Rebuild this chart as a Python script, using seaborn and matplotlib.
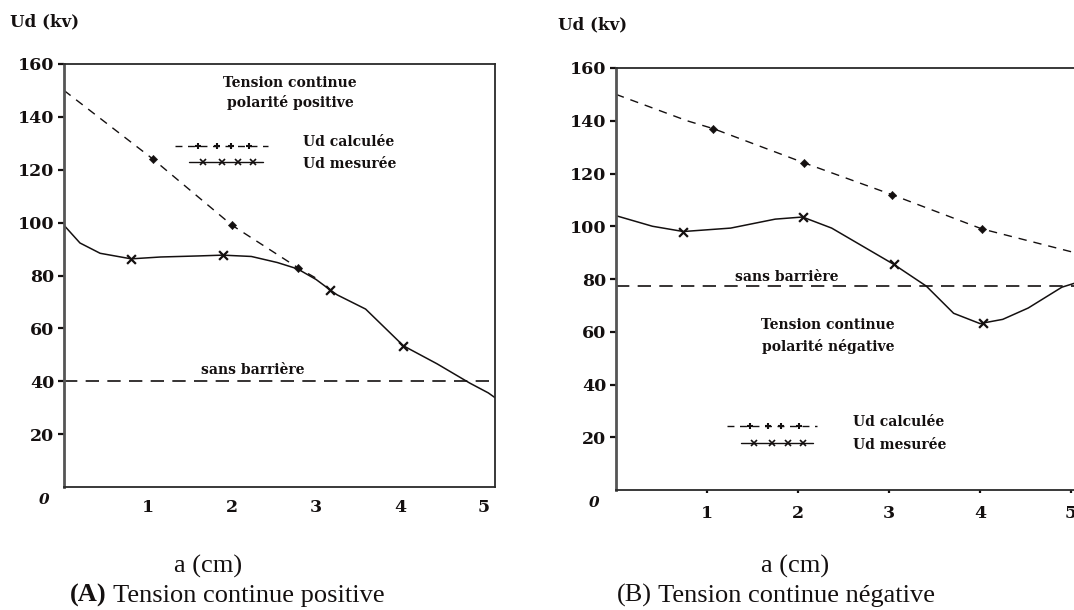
import matplotlib
matplotlib.use("Agg")
import matplotlib.pyplot as plt
import seaborn as sns
import pandas as pd

sns.set_theme(style="white")
plt.rcParams["font.family"] = ["Liberation Serif", "DejaVu Serif"]

INK = "#141010"

# ---------------- (A) positive DC voltage ----------------
a_calc_x = [0.0, 1.06, 2.0, 2.78, 3.0]
a_calc_y = [150, 124, 99, 83, 79]
a_calc_mark_x = [1.06, 2.0, 2.78]
a_calc_mark_y = [124, 99, 83]

a_meas_x = [0.0, 0.19, 0.43, 0.80, 1.15, 1.60, 1.89, 2.23, 2.54, 2.78,
            3.0, 3.17, 3.25, 3.59, 4.04, 4.44, 4.83, 5.05, 5.13]
a_meas_y = [99, 92.3, 88.4, 86.3, 87.0, 87.4, 87.7, 87.2, 84.9, 82.5,
            78.5, 74.5, 72.7, 67.3, 53.4, 46.6, 39.3, 35.6, 33.8]
a_meas_mark_x = [0.80, 1.89, 3.17, 4.04]
a_meas_mark_y = [86.3, 87.7, 74.5, 53.4]
a_baseline = 40

# ---------------- (B) negative DC voltage ----------------
b_calc_x = [0.0, 0.78, 1.07, 2.07, 3.03, 4.02, 5.04, 5.3]
b_calc_y = [150, 140, 137, 124, 112, 99, 90, 87]
b_calc_mark_x = [1.07, 2.07, 3.03, 4.02]
b_calc_mark_y = [137, 124, 112, 99]

b_meas_x = [0.0, 0.40, 0.74, 1.26, 1.75, 2.05, 2.37, 3.05, 3.41, 3.71,
            4.0, 4.25, 4.53, 4.90, 5.04, 5.3]
b_meas_y = [104, 100, 98, 99.3, 102.7, 103.5, 99.3, 85.6, 77.3, 67,
            63.1, 64.7, 69, 76.9, 78.4, 81]
b_meas_mark_x = [0.74, 2.05, 3.05, 4.03]
b_meas_mark_y = [98, 103.5, 85.6, 63.3]
b_baseline = 77.3

y_ticks = [20, 40, 60, 80, 100, 120, 140, 160]
x_ticks = [1, 2, 3, 4, 5]

W, H = 1074, 610
fig = plt.figure(figsize=(W / 100, H / 100), dpi=100)
fig.patch.set_facecolor("white")


def px_axes(left, top, right, bottom):
    return fig.add_axes([left / W, 1 - bottom / H, (right - left) / W, (bottom - top) / H])


ax_a = px_axes(64, 64, 495, 487)
ax_b = px_axes(616, 68, 616 + 5.3 * 91, 490)

tick_font = dict(family="DejaVu Serif", weight="bold", size=12.5)
note_font = dict(family="DejaVu Serif", weight="bold", size=10)


def draw_panel(ax, xmax, cx, cy, cmx, cmy, mx, my, mmx, mmy, base):
    calc = pd.DataFrame({"a": cx, "Ud": cy})
    meas = pd.DataFrame({"a": mx, "Ud": my})
    sns.lineplot(data=calc, x="a", y="Ud", ax=ax, color=INK, lw=1.0,
                 sort=False, estimator=None)
    ax.lines[-1].set_dashes((6, 5))
    sns.lineplot(data=meas, x="a", y="Ud", ax=ax, color=INK, lw=1.1,
                 sort=False, estimator=None)
    sns.scatterplot(x=cmx, y=cmy, ax=ax, color=INK, marker="D", s=18,
                    edgecolor=INK, zorder=4)
    sns.scatterplot(x=mmx, y=mmy, ax=ax, color=INK, marker="x", s=40,
                    linewidth=1.6, zorder=4)
    ax.axhline(base, color=INK, lw=1.2, dashes=(8, 5))

    ax.set_xlim(0, xmax)
    ax.set_ylim(0, 160)
    ax.set_yticks(y_ticks)
    ax.set_yticklabels([str(v) for v in y_ticks], fontdict=tick_font, color=INK)
    ax.set_xticks(x_ticks)
    ax.set_xticklabels([str(v) for v in x_ticks], fontdict=tick_font, color=INK)
    ax.tick_params(axis="y", left=True, length=4, width=1.6, color=INK, pad=3)
    ax.tick_params(axis="x", bottom=True, length=0, pad=9)
    ax.set_xlabel("")
    ax.set_ylabel("")
    for side in ["top", "right", "bottom"]:
        ax.spines[side].set_color("#2a2a2a")
        ax.spines[side].set_linewidth(1.3)
    ax.spines["left"].set_color("#555555")
    ax.spines["left"].set_linewidth(2.0)
    ax.set_facecolor("white")
    ax.text(-0.045, -0.03, "0", transform=ax.transAxes, ha="center", va="center",
            fontdict=dict(family="DejaVu Serif", weight="bold", style="italic", size=11),
            color=INK)


draw_panel(ax_a, 5.13, a_calc_x, a_calc_y, a_calc_mark_x, a_calc_mark_y,
           a_meas_x, a_meas_y, a_meas_mark_x, a_meas_mark_y, a_baseline)
draw_panel(ax_b, 5.3, b_calc_x, b_calc_y, b_calc_mark_x, b_calc_mark_y,
           b_meas_x, b_meas_y, b_meas_mark_x, b_meas_mark_y, b_baseline)
ax_b.tick_params(axis="x", length=2, width=1.6, color=INK)


def legend_block(ax, x0, x1, y_top, y_bot, tx):
    # dashed sample with point markers, solid sample with cross markers
    ax.plot([x0, x1], [y_top, y_top], transform=ax.transAxes, color=INK,
            lw=1.0, dashes=(5, 4))
    xs = [x0 + (x1 - x0) * f for f in (0.25, 0.45, 0.6, 0.8)]
    ax.plot(xs, [y_top] * 4, transform=ax.transAxes, ls="none", marker="+",
            ms=5, mew=1.5, color=INK)
    s0 = x0 + (x1 - x0) * 0.15
    ax.plot([s0, x1 - (x1 - x0) * 0.05], [y_bot, y_bot], transform=ax.transAxes,
            color=INK, lw=1.0)
    xs2 = [x0 + (x1 - x0) * f for f in (0.3, 0.5, 0.68, 0.84)]
    ax.plot(xs2, [y_bot] * 4, transform=ax.transAxes, ls="none", marker="x",
            ms=4, mew=1.2, color=INK)
    ax.text(tx, y_top + 0.01, "Ud calculée", transform=ax.transAxes,
            ha="left", va="center", fontdict=note_font, color=INK)
    ax.text(tx, y_bot - 0.005, "Ud mesurée", transform=ax.transAxes,
            ha="left", va="center", fontdict=note_font, color=INK)


def axfrac(ax_left, ax_top, ax_w, ax_h, px, py):
    return (px - ax_left) / ax_w, (ax_top + ax_h - py) / ax_h


# panel A annotations
fa = lambda px, py: axfrac(64, 64, 431, 423, px, py)
x0, yt = fa(175, 146)
x1, yb = fa(268, 162)
tx, _ = fa(303, 0)
legend_block(ax_a, x0, x1, yt, yb, tx)
cx_, cy1 = fa(290, 83)
_, cy2 = fa(290, 102)
ax_a.text(cx_, cy1, "Tension continue", transform=ax_a.transAxes, ha="center",
          va="center", fontdict=note_font, color=INK)
ax_a.text(cx_, cy2, "polarité positive", transform=ax_a.transAxes, ha="center",
          va="center", fontdict=note_font, color=INK)
sx, sy = fa(253, 370)
ax_a.text(sx, sy, "sans barrière", transform=ax_a.transAxes, ha="center",
          va="center", fontdict=note_font, color=INK)

# panel B annotations
fb = lambda px, py: axfrac(616, 68, 5.3 * 91, 422, px, py)
x0, yt = fb(727, 426)
x1, yb = fb(817, 443)
tx, _ = fb(853, 0)
legend_block(ax_b, x0, x1, yt, yb, tx)
cx_, cy1 = fb(828, 325)
_, cy2 = fb(828, 347)
ax_b.text(cx_, cy1, "Tension continue", transform=ax_b.transAxes, ha="center",
          va="center", fontdict=note_font, color=INK)
ax_b.text(cx_, cy2, "polarité négative", transform=ax_b.transAxes, ha="center",
          va="center", fontdict=note_font, color=INK)
sx, sy = fb(787, 277)
ax_b.text(sx, sy, "sans barrière", transform=ax_b.transAxes, ha="center",
          va="center", fontdict=note_font, color=INK)

# axis titles and captions
ylab_font = dict(family="DejaVu Serif", weight="bold", size=12)
fig.text(10 / W, 1 - 22 / H, "Ud (kv)", ha="left", va="center", fontdict=ylab_font, color=INK)
fig.text(558 / W, 1 - 25 / H, "Ud (kv)", ha="left", va="center", fontdict=ylab_font, color=INK)

CAP = 19
cap_font = dict(family="Liberation Serif", size=CAP)
cap_bold = dict(family="Liberation Serif", size=CAP, weight="bold")
fig.text(208 / W, 1 - 566 / H, "a (cm)", ha="center", va="center", fontdict=cap_font, color=INK)
fig.text(795 / W, 1 - 566 / H, "a (cm)", ha="center", va="center", fontdict=cap_font, color=INK)

ta = fig.text(70 / W, 1 - 602 / H, "(A)", ha="left", va="baseline", fontdict=cap_bold, color=INK)
ax_a.annotate(" Tension continue positive", xy=(1, 0), xycoords=ta, va="bottom",
              ha="left", fontsize=CAP, family="Liberation Serif", color=INK,
              annotation_clip=False)
tb = fig.text(617 / W, 1 - 602 / H, "(B)", ha="left", va="baseline", fontdict=cap_font, color=INK)
ax_b.annotate(" Tension continue négative", xy=(1, 0), xycoords=tb, va="bottom",
              ha="left", fontsize=CAP, family="Liberation Serif", color=INK,
              annotation_clip=False)

fig.savefig("out.png", dpi=100, facecolor="white")
